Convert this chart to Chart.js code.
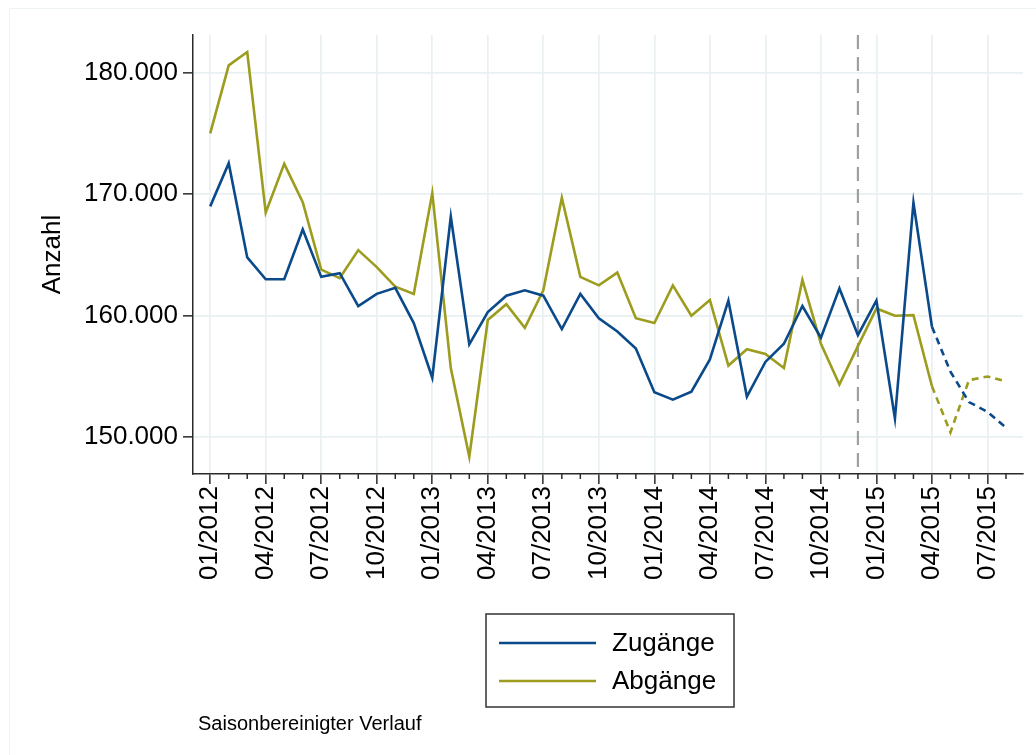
<!DOCTYPE html>
<html lang="de">
<head>
<meta charset="utf-8">
<title>Zugänge und Abgänge</title>
<script src="https://cdn.jsdelivr.net/npm/chart.js@4/dist/chart.umd.min.js"></script>
<style>
  html, body { margin: 0; padding: 0; background: #fff; }
  #chart { display: block; }
</style>
</head>
<body>
<canvas id="chart" width="1036" height="755"></canvas>
<script>
  "use strict";

  var months = [
    "01/2012", "02/2012", "03/2012", "04/2012", "05/2012", "06/2012",
    "07/2012", "08/2012", "09/2012", "10/2012", "11/2012", "12/2012",
    "01/2013", "02/2013", "03/2013", "04/2013", "05/2013", "06/2013",
    "07/2013", "08/2013", "09/2013", "10/2013", "11/2013", "12/2013",
    "01/2014", "02/2014", "03/2014", "04/2014", "05/2014", "06/2014",
    "07/2014", "08/2014", "09/2014", "10/2014", "11/2014", "12/2014",
    "01/2015", "02/2015", "03/2015", "04/2015", "05/2015", "06/2015",
    "07/2015", "08/2015"
  ];

  var tickLabels = [
    "01/2012", "04/2012", "07/2012", "10/2012",
    "01/2013", "04/2013", "07/2013", "10/2013",
    "01/2014", "04/2014", "07/2014", "10/2014",
    "01/2015", "04/2015", "07/2015"
  ];

  var zugaenge = [
    169000, 172550, 164800, 163000, 163000, 167100,
    163200, 163500, 160800, 161800, 162300, 159400,
    154900, 168150, 157650, 160300, 161650, 162100,
    161650, 158900, 161800, 159800, 158700, 157300,
    153700, 153100, 153750, 156400, 161250, 153350,
    156200, 157700, 160800, 158200, 162250, 158400,
    161250, 151550, 169300, 159100, 155400, 152900,
    152100, 150800
  ];

  var abgaenge = [
    175000, 180600, 181700, 168500, 172500, 169350,
    163800, 163100, 165400, 164000, 162400, 161800,
    170100, 155700, 148400, 159650, 160950, 159000,
    162100, 169700, 163200, 162500, 163550, 159800,
    159400, 162500, 160000, 161300, 155900, 157250,
    156850, 155700, 162950, 157700, 154350, 157500,
    160600, 160000, 160050, 154200, 150400, 154700,
    155000, 154600
  ];

  var yTicks = [150000, 160000, 170000, 180000];

  // last month of the solid line, afterwards dotted (forecast)
  var lastActual = "04/2015";
  // vertical reference line
  var markMonth = "12/2014";
  var footnote = "Saisonbereinigter Verlauf";

  var BLUE = "#0a4a8a";
  var OLIVE = "#9c9c1f";
  var GRID = "#e8f0f2";
  var AXIS = "#2a2a2a";
  var FONT = "'Liberation Sans', Arial, sans-serif";

  var solidIdx = months.indexOf(lastActual);

  function points(arr) {
    return arr.map(function (v, i) { return { x: i, y: v }; });
  }

  function fmt(v) {
    return String(v).replace(/\B(?=(\d{3})+(?!\d))/g, ".");
  }

  function isMajor(i) {
    return tickLabels.indexOf(months[i]) !== -1;
  }

  var dashed = function (ctx) {
    return ctx.p0DataIndex >= solidIdx ? [7, 5] : undefined;
  };

  var extras = {
    id: "extras",
    beforeDraw: function (chart) {
      var c = chart.ctx;
      c.save();
      c.strokeStyle = "#edf2f2";
      c.lineWidth = 1;
      c.beginPath();
      c.moveTo(9.5, 755);
      c.lineTo(9.5, 8.5);
      c.lineTo(1036, 8.5);
      c.stroke();
      c.restore();
    },
    beforeDatasetsDraw: function (chart) {
      var c = chart.ctx;
      var a = chart.chartArea;
      var x = chart.scales.x.getPixelForValue(months.indexOf(markMonth));
      c.save();
      c.strokeStyle = "#a0a0a0";
      c.lineWidth = 2.2;
      c.setLineDash([14, 8]);
      c.beginPath();
      c.moveTo(x, a.top);
      c.lineTo(x, a.bottom);
      c.stroke();
      c.restore();
    },
    afterDraw: function (chart) {
      var c = chart.ctx;
      var a = chart.chartArea;
      var xs = chart.scales.x;
      c.save();
      // minor ticks
      c.strokeStyle = AXIS;
      c.lineWidth = 1.5;
      months.forEach(function (m, i) {
        if (isMajor(i)) return;
        var px = xs.getPixelForValue(i);
        c.beginPath();
        c.moveTo(px, a.bottom);
        c.lineTo(px, a.bottom + 5);
        c.stroke();
      });

      // legend box
      var lx = 486, ly = 614, lw = 248, lh = 93;
      c.strokeStyle = "#333";
      c.lineWidth = 1.5;
      c.strokeRect(lx, ly, lw, lh);
      c.font = "26px " + FONT;
      c.textBaseline = "middle";
      c.fillStyle = "#000";
      chart.data.datasets.forEach(function (ds, k) {
        var yy = ly + 29 + k * 38;
        c.strokeStyle = ds.borderColor;
        c.lineWidth = 2.5;
        c.beginPath();
        c.moveTo(lx + 13, yy);
        c.lineTo(lx + 110, yy);
        c.stroke();
        c.fillText(ds.label, lx + 126, yy + 1);
      });

      // footnote
      c.font = "20px " + FONT;
      c.textBaseline = "alphabetic";
      c.fillText(footnote, 198, 730);
      c.restore();
    }
  };

  new Chart(document.getElementById("chart").getContext("2d"), {
    type: "line",
    data: {
      datasets: [
        {
          label: "Zugänge",
          data: points(zugaenge),
          borderColor: BLUE,
          borderWidth: 2.6,
          pointRadius: 0,
          tension: 0,
          segment: { borderDash: dashed }
        },
        {
          label: "Abgänge",
          data: points(abgaenge),
          borderColor: OLIVE,
          borderWidth: 2.6,
          pointRadius: 0,
          tension: 0,
          segment: { borderDash: dashed }
        }
      ]
    },
    options: {
      responsive: false,
      animation: false,
      devicePixelRatio: 1,
      layout: { padding: { left: 0, top: 35, right: 13, bottom: 0 } },
      plugins: {
        legend: { display: false },
        tooltip: { enabled: false }
      },
      scales: {
        x: {
          type: "linear",
          min: -0.93,
          max: 43.92,
          afterBuildTicks: function (scale) {
            scale.ticks = months.map(function (m, i) { return { value: i }; });
          },
          afterFit: function (scale) {
            scale.height = 755 - 474;
            scale.paddingLeft = 0;
            scale.paddingRight = 0;
          },
          border: { display: true, color: AXIS, width: 1.5 },
          grid: {
            color: function (ctx) {
              return ctx.tick && isMajor(ctx.tick.value) ? GRID : "rgba(0,0,0,0)";
            },
            tickColor: function (ctx) {
              return ctx.tick && isMajor(ctx.tick.value) ? AXIS : "rgba(0,0,0,0)";
            },
            lineWidth: 1.7,
            tickWidth: 1.5,
            tickLength: 10
          },
          ticks: {
            autoSkip: false,
            minRotation: 90,
            maxRotation: 90,
            padding: 2,
            color: "#000",
            font: { family: FONT, size: 26 },
            callback: function (v) {
              return isMajor(v) ? months[v] : "";
            }
          }
        },
        y: {
          min: 146980,
          max: 183100,
          afterBuildTicks: function (scale) {
            scale.ticks = yTicks.map(function (v) { return { value: v }; });
          },
          afterFit: function (scale) { scale.width = 193; },
          border: { display: true, color: AXIS, width: 1.5 },
          grid: {
            color: GRID,
            tickColor: AXIS,
            lineWidth: 1.7,
            tickWidth: 1.5,
            tickLength: 10
          },
          ticks: {
            padding: 5,
            color: "#000",
            font: { family: FONT, size: 26 },
            callback: function (v) { return fmt(v); }
          },
          title: {
            display: true,
            text: "Anzahl",
            color: "#000",
            font: { family: FONT, size: 26 },
            padding: { top: 37, bottom: 0 }
          }
        }
      }
    },
    plugins: [extras]
  });
</script>
</body>
</html>
